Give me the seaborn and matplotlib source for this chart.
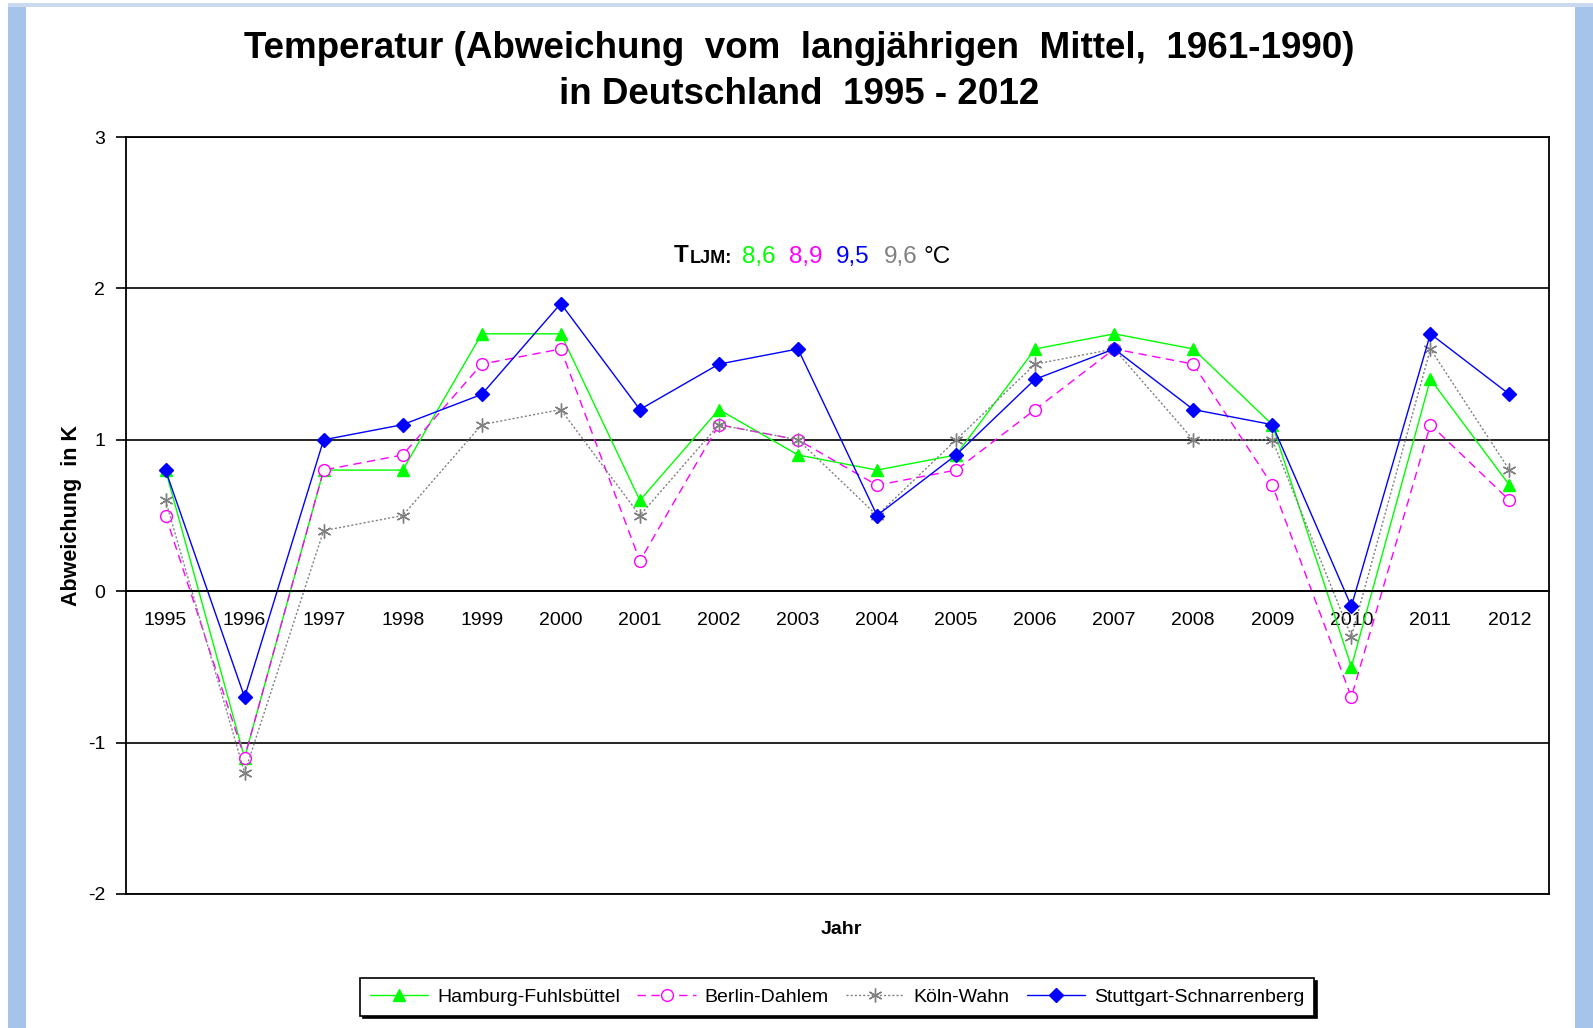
import numpy as np
import pandas as pd
import matplotlib.pyplot as plt
import matplotlib.patches as mpatches
import seaborn as sns

sns.set_style("white")
plt.rcParams['font.family'] = ['Liberation Sans', 'DejaVu Sans']
plt.rcParams['text.color'] = 'black'
plt.rcParams['axes.labelcolor'] = 'black'
plt.rcParams['xtick.color'] = 'black'
plt.rcParams['ytick.color'] = 'black'

# data (deviation from 1961-1990 mean, K)
years = [str(y) for y in range(1995, 2013)]
hamburg = [0.8, -1.1, 0.8, 0.8, 1.7, 1.7, 0.6, 1.2, 0.9, 0.8, 0.9, 1.6, 1.7, 1.6, 1.1, -0.5, 1.4, 0.7]
berlin = [0.5, -1.1, 0.8, 0.9, 1.5, 1.6, 0.2, 1.1, 1.0, 0.7, 0.8, 1.2, 1.6, 1.5, 0.7, -0.7, 1.1, 0.6]
koeln = [0.6, -1.2, 0.4, 0.5, 1.1, 1.2, 0.5, 1.1, 1.0, 0.5, 1.0, 1.5, 1.6, 1.0, 1.0, -0.3, 1.6, 0.8]
stuttgart = [0.8, -0.7, 1.0, 1.1, 1.3, 1.9, 1.2, 1.5, 1.6, 0.5, 0.9, 1.4, 1.6, 1.2, 1.1, -0.1, 1.7, 1.3]
stations = ["Hamburg-Fuhlsbüttel", "Berlin-Dahlem", "Köln-Wahn", "Stuttgart-Schnarrenberg"]
tljm_values = ["8,6", "8,9", "9,5", "9,6"]
tljm_colors = ["#00FF00", "#FF00FF", "#0000FF", "#808080"]
y_ticks = [-2, -1, 0, 1, 2, 3]

df = pd.DataFrame({"Jahr": years * 4,
                   "Abweichung": hamburg + berlin + koeln + stuttgart,
                   "Station": np.repeat(stations, len(years))})

styles = {
    "Hamburg-Fuhlsbüttel": dict(color="#00FF00", ls="-", marker="^", ms=9, mfc="#00FF00", mec="#00FF00"),
    "Berlin-Dahlem": dict(color="#FF00FF", ls=(0, (6, 4)), marker="o", ms=8.5, mfc="white", mec="#FF00FF"),
    "Köln-Wahn": dict(color="#808080", ls=(0, (1.5, 1.5)), marker=(6, 2, 0), ms=10, mfc="#808080", mec="#808080"),
    "Stuttgart-Schnarrenberg": dict(color="#0000FF", ls="-", marker="D", ms=7, mfc="#0000FF", mec="#0000FF"),
}

fig = plt.figure(figsize=(15.93, 10.28), dpi=100)
fig.patch.set_facecolor("white")

# page decoration: blue strips like the spreadsheet window
fig.add_artist(mpatches.Rectangle((8 / 1593, 0), 18 / 1593, 1 - 4 / 1028, transform=fig.transFigure,
                                  facecolor="#A6C4EA", edgecolor="none"))
fig.add_artist(mpatches.Rectangle((1575 / 1593, 0), 18 / 1593, 1 - 4 / 1028, transform=fig.transFigure,
                                  facecolor="#A6C4EA", edgecolor="none"))
fig.add_artist(mpatches.Rectangle((8 / 1593, 1 - 7 / 1028), 1 - 8 / 1593, 4 / 1028, transform=fig.transFigure,
                                  facecolor="#C9DAF0", edgecolor="none"))

ax = fig.add_axes([126 / 1593, 1 - 894 / 1028, 1423 / 1593, 757 / 1028])

handles = []
for st in stations:
    s = styles[st]
    sns.lineplot(data=df[df["Station"] == st], x="Jahr", y="Abweichung", ax=ax,
                 color=s["color"], linestyle=s["ls"], linewidth=1.0,
                 marker=s["marker"], markersize=s["ms"], mfc=s["mfc"], mec=s["mec"],
                 mew=1.0, label=st, legend=False)
    handles.append(ax.get_lines()[-1])

ax.set_xlim(-0.5, len(years) - 0.5)
ax.set_ylim(-2, 3)
ax.set_yticks(y_ticks)
ax.set_yticklabels([str(v) for v in y_ticks], fontsize=14)
ax.yaxis.grid(True, color="black", linewidth=1.2)
ax.set_axisbelow(True)

# x axis runs along the zero line, ticks between categories
ax.spines["bottom"].set_position(("data", 0))
ax.set_xticks(np.arange(0.5, len(years) - 1, 1))
ax.set_xticklabels([])
ax.set_xticks(np.arange(len(years)), minor=True)
ax.set_xticklabels(years, minor=True, fontsize=14)
ax.tick_params(axis="x", which="major", direction="out", length=7, width=1.2, color="black")
ax.tick_params(axis="x", which="minor", length=0, pad=15)
ax.tick_params(axis="y", direction="out", length=7, width=1.2, color="black", pad=8, left=True)
for sp in ax.spines.values():
    sp.set_color("black")
    sp.set_linewidth(1.3)
ax.axhline(-2, color="black", linewidth=1.3, clip_on=False)

ax.set_xlabel("")
ax.set_ylabel("Abweichung  in K", fontsize=15.5, fontweight="bold", labelpad=4)
fig.text(841 / 1593, 1 - 929 / 1028, "Jahr", fontsize=14, fontweight="bold", ha="center", va="center")

fig.text(799 / 1593, 1 - 48 / 1028, "Temperatur (Abweichung  vom  langjährigen  Mittel,  1961-1990)",
         fontsize=26.5, fontweight="bold", ha="center", va="center")
fig.text(799 / 1593, 1 - 94 / 1028, "in Deutschland  1995 - 2012",
         fontsize=26.5, fontweight="bold", ha="center", va="center")

# T_LJM annotation, built piece by piece
t = fig.text(674 / 1593, 1 - 267 / 1028, "T", fontsize=17.5, fontweight="bold", va="bottom")
t = ax.annotate("LJM:", xy=(1, 0), xycoords=t, xytext=(0.5, 0), textcoords="offset points",
                fontsize=13, fontweight="bold", va="bottom")
offsets = [(7, -1), (10, 0), (10, 0), (10, 0)]
for val, col, off in zip(tljm_values, tljm_colors, offsets):
    t = ax.annotate(val, xy=(1, 0), xycoords=t, xytext=off, textcoords="offset points",
                    fontsize=17.5, color=col, va="bottom")
ax.annotate("°C", xy=(1, 0), xycoords=t, xytext=(4, 0), textcoords="offset points",
            fontsize=17.5, color="black", va="bottom")

leg = ax.legend(handles=handles, labels=stations, loc="center", ncol=4,
                bbox_to_anchor=(837 / 1593, 1 - 997 / 1028), bbox_transform=fig.transFigure,
                fontsize=14, frameon=True, fancybox=False, shadow={"color": "black", "alpha": 1},
                handlelength=3.0, columnspacing=0.9, handletextpad=0.45, borderpad=0.5)
leg.get_frame().set_edgecolor("black")
leg.get_frame().set_linewidth(1.2)

fig.savefig("out.png", dpi=100, facecolor="white")
